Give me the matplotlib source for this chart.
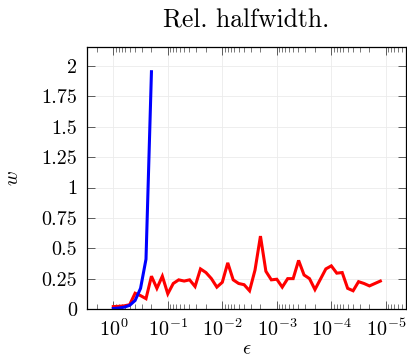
import numpy as np
import matplotlib
matplotlib.use("Agg")
import matplotlib.pyplot as plt
from matplotlib.ticker import LogLocator, LogFormatterMathtext, FixedLocator, FixedFormatter, NullFormatter

plt.rcParams['font.family'] = 'cmr10'
plt.rcParams['mathtext.fontset'] = 'cm'
plt.rcParams['axes.unicode_minus'] = False

# epsilon grid (0.1 decade steps)
eps = [1.0, 7.943e-1, 6.310e-1, 5.012e-1, 3.981e-1, 3.162e-1, 2.512e-1, 1.995e-1, 1.585e-1, 1.259e-1,
       1.0e-1, 7.943e-2, 6.310e-2, 5.012e-2, 3.981e-2, 3.162e-2, 2.512e-2, 1.995e-2, 1.585e-2, 1.259e-2,
       1.0e-2, 7.943e-3, 6.310e-3, 5.012e-3, 3.981e-3, 3.162e-3, 2.512e-3, 1.995e-3, 1.585e-3, 1.259e-3,
       1.0e-3, 7.943e-4, 6.310e-4, 5.012e-4, 3.981e-4, 3.162e-4, 2.512e-4, 1.995e-4, 1.585e-4, 1.259e-4,
       1.0e-4, 7.943e-5, 6.310e-5, 5.012e-5, 3.981e-5, 3.162e-5, 2.512e-5, 1.995e-5, 1.585e-5, 1.259e-5]

# red series (full range)
w_red = [0.020, 0.022, 0.026, 0.035, 0.13, 0.11, 0.085, 0.27, 0.17, 0.27,
         0.125, 0.21, 0.24, 0.23, 0.24, 0.185, 0.33, 0.30, 0.25, 0.18,
         0.22, 0.38, 0.24, 0.21, 0.20, 0.15, 0.32, 0.60, 0.31, 0.24,
         0.245, 0.18, 0.25, 0.25, 0.40, 0.28, 0.25, 0.16, 0.245, 0.33,
         0.355, 0.295, 0.30, 0.17, 0.15, 0.225, 0.21, 0.19, 0.21, 0.23]

# blue series (blows up quickly)
w_blue = [0.004, 0.008, 0.015, 0.03, 0.07, 0.17, 0.41, 1.953]

yticks = [0, 0.25, 0.5, 0.75, 1, 1.25, 1.5, 1.75, 2]
ytick_labels = ['0', '0.25', '0.5', '0.75', '1', '1.25', '1.5', '1.75', '2']

fig = plt.figure(figsize=(4.07, 3.58), dpi=100)
ax = fig.add_axes([86.7 / 407, 49 / 358, (406.3 - 86.7) / 407, (309 - 47.3) / 358])

ax.plot(eps, w_red, color='red', lw=2.2, solid_joinstyle='miter')
ax.plot(eps[:len(w_blue)], w_blue, color='blue', lw=2.2, solid_joinstyle='miter')

ax.set_xscale('log')
ax.set_xlim(10 ** 0.488, 10 ** -5.376)
ax.set_ylim(0, 2.154)

ax.xaxis.set_major_locator(LogLocator(base=10, numticks=20))
ax.xaxis.set_minor_locator(LogLocator(base=10, subs=np.arange(2, 10), numticks=20))
ax.xaxis.set_major_formatter(LogFormatterMathtext())
ax.xaxis.set_minor_formatter(NullFormatter())
ax.yaxis.set_major_locator(FixedLocator(yticks))
ax.yaxis.set_major_formatter(FixedFormatter(ytick_labels))

ax.tick_params(which='both', direction='in', top=True, right=True, labelsize=14.5, color='#444444')
ax.tick_params(which='major', length=6, width=0.6, pad=7)
ax.tick_params(which='minor', length=3.5, width=0.5)
for s in ax.spines.values():
    s.set_linewidth(0.9)

ax.grid(True, which='major', color='#ebebeb', lw=0.6)
ax.set_axisbelow(True)

ax.set_title('Rel. halfwidth.', fontsize=18.5, pad=14)
ax.set_xlabel(r'$\epsilon$', fontsize=14.5, labelpad=0)
ax.set_ylabel(r'$w$', fontsize=14.5, labelpad=14)

fig.savefig('out.png', dpi=100)
